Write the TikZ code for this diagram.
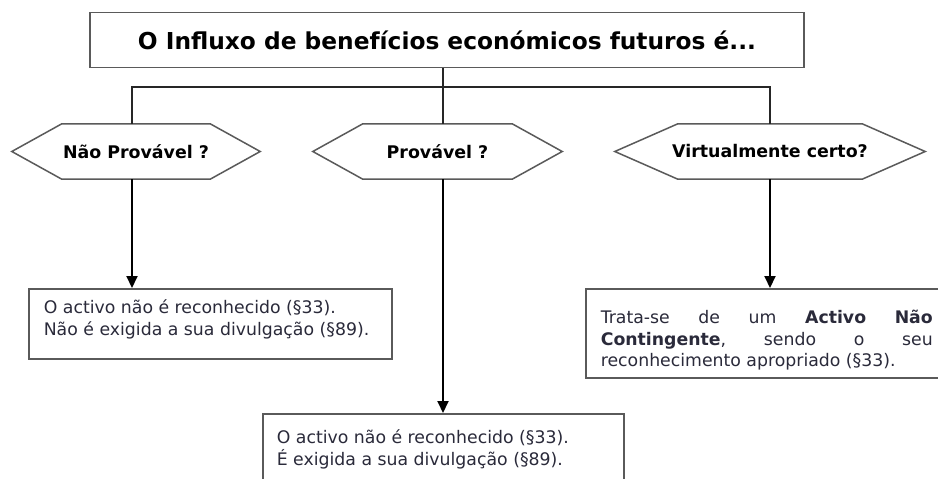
\documentclass[tikz,border=0pt]{standalone}
\usepackage{fontspec}
\setmainfont{DejaVu Sans}
\usetikzlibrary{arrows.meta}
\definecolor{edgegray}{HTML}{5A5A5A}
\definecolor{txt}{HTML}{2A2A3A}
\newcommand\boxcontent[4]{\parbox[t][#2][t]{#1}{\rule{0pt}{#3}#4}}
\begin{document}
\begin{tikzpicture}[x=1pt,y=-1pt,
  box/.style={draw=edgegray,line width=1.6pt,fill=white,anchor=north west,inner ysep=0pt,text=txt,font=\fontsize{17.3}{21.5}\selectfont},
  titlebox/.style={draw=edgegray,line width=1.6pt,fill=white,inner sep=0pt,font=\fontsize{23.3}{26}\bfseries\selectfont},
  hexlabel/.style={inner sep=0pt,minimum height=55pt,font=\fontsize{17.4}{20}\bfseries\selectfont},
  hexline/.style={draw=edgegray,line width=1.5pt,line join=miter},
  thinline/.style={draw=black!85,line width=1.2pt},
  arr/.style={draw=black,line width=2pt,-{Triangle[width=11pt,length=12pt]}}]
\useasboundingbox (0,0) rectangle (938,479);
\clip (0,0) rectangle (938,479);
\fill[white] (0,0) rectangle (938,479);
% title
\node[titlebox,minimum width=714pt,minimum height=55pt] (top) at (447,40) {O Influxo de benefícios económicos futuros é...};
% hexagons
\node[hexlabel,minimum width=248pt] (h1) at (136,151.5) {Não Provável ?};
\node[hexlabel,minimum width=249pt] (h2) at (437.5,151.5) {Provável ?};
\node[hexlabel,minimum width=310pt] (h3) at (770,151.5) {Virtualmente certo?};
\draw[hexline] (h1.west) -- ([xshift=50pt]h1.north west) -- ([xshift=-50pt]h1.north east) -- (h1.east) -- ([xshift=-50pt]h1.south east) -- ([xshift=50pt]h1.south west) -- cycle;
\draw[hexline] (h2.west) -- ([xshift=50pt]h2.north west) -- ([xshift=-50pt]h2.north east) -- (h2.east) -- ([xshift=-50pt]h2.south east) -- ([xshift=50pt]h2.south west) -- cycle;
\draw[hexline] (h3.west) -- ([xshift=63pt]h3.north west) -- ([xshift=-63pt]h3.north east) -- (h3.east) -- ([xshift=-63pt]h3.south east) -- ([xshift=63pt]h3.south west) -- cycle;
% boxes
\node[box,inner xsep=15pt] (b1) at (28,288)
  {\boxcontent{333pt}{70pt}{25pt}{O activo não é reconhecido (§33).\\Não é exigida a sua divulgação (§89).}};
\node[box,inner xsep=15pt] (b2) at (585,288)
  {\boxcontent{332pt}{89pt}{35pt}{\makebox[332pt][l]{Trata-se\hfill de\hfill um\hfill \textbf{Activo}\hfill \textbf{Não}}\\
   \makebox[332pt][l]{\textbf{Contingente},\hfill sendo\hfill o\hfill seu}\\
   reconhecimento apropriado (§33).}};
\node[box,inner xsep=14pt] (b3) at (262,413)
  {\boxcontent{333pt}{75pt}{30pt}{O activo não é reconhecido (§33).\\É exigida a sua divulgação (§89).}};
% connectors
\coordinate (c1) at (132,87);
\coordinate (c2) at (443,87);
\coordinate (c3) at (770,87);
\draw[thinline] (top.south -| c2) -- (h2.north -| c2);
\draw[thinline] (h1.north -| c1) -- (c1) -- (c3) -- (h3.north -| c3);
\draw[arr] (h1.south -| c1) -- (b1.north -| c1);
\draw[arr] (h2.south -| c2) -- (b3.north -| c2);
\draw[arr] (h3.south -| c3) -- (b2.north -| c3);
\end{tikzpicture}
\end{document}
